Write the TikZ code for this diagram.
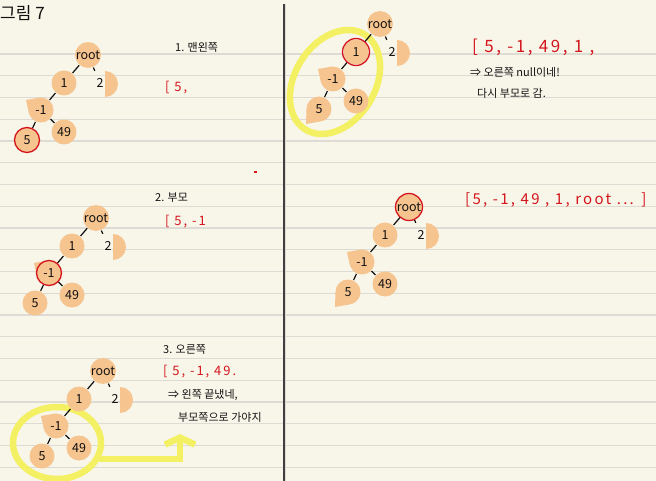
\documentclass[tikz,border=0pt]{standalone}
\usepackage{fontspec}
\setmainfont{Noto Sans CJK KR}
\newfontfamily\handred[LetterSpace=15]{Noto Sans CJK KR}
\usetikzlibrary{positioning,arrows.meta,calc,shapes.geometric}
\definecolor{paper}{HTML}{F8F5E9}
\definecolor{nrule}{HTML}{DDDBD3}
\definecolor{spine}{HTML}{3F3F3F}
\definecolor{pen}{HTML}{111111}
\definecolor{ored}{HTML}{D4151C}
\definecolor{oblob}{HTML}{F6C48E}
\definecolor{hyel}{HTML}{F4F064}
\tikzset{
  blob/.style   ={circle, fill=oblob, minimum size=25pt, inner sep=0pt,
                  font=\fontsize{12.5}{12.5}\selectfont, text=pen},
  bare/.style   ={blob, fill=none},
  link/.style   ={line width=1.2pt, draw=pen, shorten >=0.5pt, shorten <=0.5pt},
  ring/.style   ={draw=ored, line width=1.3pt},
  hilite/.style ={draw=hyel, line width=6.5pt, line cap=round},
  hlring/.style ={ellipse, hilite, inner sep=0pt},
  note/.style   ={font=\fontsize{11}{11}\selectfont, text=pen, inner sep=0pt, anchor=west},
  rlist/.style  ={note, font=\handred\fontsize{13}{13}\selectfont, text=ored},
  ruleline/.style={draw=nrule, line width=1.2pt},
  pics/numtree/.style={code={
    % half disc behind 2, corner of -1
    \fill[oblob] (17,-16) arc[start angle=90, end angle=-90, radius=13] -- cycle;
    \fill[oblob] (-62,-45) -- (-59,-58.4) -- (-48.3,-42.6) -- cycle;
    \node[blob] (-root) at (0,0)     {root};
    \node[blob] (-n1)   at (-24,-28) {1};
    \node[bare] (-n2)   at (12,-28)  {2};
    \node[blob] (-m)    at (-47,-55) {-1};
    \node[blob] (-five) at (-61,-85) {5};
    \node[blob] (-fn)   at (-24,-77) {49};
    \draw[link] (-root) -- (-n1);
    \draw[link] (-root) -- (-n2);
    \draw[link] (-n1) -- (-m);
    \draw[link] (-m) -- (-five);
    \draw[link] (-m) -- (-fn);
  }},
}
\begin{document}
\begin{tikzpicture}[x=1pt, y=1pt]
  \fill[paper] (0,0) rectangle (656,-481);
  \useasboundingbox (0,0) rectangle (656,-481);
  \foreach \k in {0,...,19}
    \draw[ruleline] (0,{-54-21.75*\k}) -- (656,{-54-21.75*\k});
  \draw[spine, line width=1.3pt] (284,-4) -- (284,-481);
  \draw[nrule, line width=0.8pt] (285.6,-4) -- (285.6,-481);

  % yellow marks
  \node[hlring, minimum width=88pt, minimum height=72pt] (hl3) at (57,-443) {};
  \coordinate (up3) at (180,-434);
  \draw[hilite, -{Straight Barb[length=7pt, width=30pt]}] (hl3.-20) -| (up3);
  \node[hlring, minimum width=112pt, minimum height=80pt, rotate=58] (hl4) at (335,-82) {};

  % trees
  \pic (t1) at (88,-55)  {numtree};
  \pic (t2) at (96,-218) {numtree};
  \pic (t3) at (103,-371) {numtree};
  \pic (t4) at (380,-24) {numtree};
  \pic (t5) at (409,-207) {numtree};
  \fill[oblob, shift={(t4-five.center)}] (-13,-15) -- (-12.5,0) -- (2,-12.3) -- cycle;
  \fill[oblob, shift={(t5-five.center)}] (-13,-15) -- (-12.5,0) -- (2,-12.3) -- cycle;

  % current node
  \draw[ring] (t1-five) circle[radius=12.5];
  \draw[ring] (t2-m) circle[radius=12.5];
  \draw[ring] (t4-n1) circle[radius=13.5];
  \draw[ring] (t5-root) circle[radius=13.5];

  % notes
  \node[note, font=\fontsize{17}{17}\selectfont] (title) at (0,-13) {그림 7};
  \node[note] (step1) at (175,-47) {1. 맨왼쪽};
  \node[rlist] (list1) at (165,-88) {[ 5,};
  \fill[ored] (254,-171) rectangle (257,-173);
  \node[note] (step2) at (155,-198) {2. 부모};
  \node[rlist] (list2) at (165,-222) {[ 5, -1};
  \node[note] (step3) at (163,-350) {3. 오른쪽};
  \node[rlist] (list3) at (163,-372) {[ 5, -1, 49.};
  \node[note] (note3a) at (168,-395) {⇒ 왼쪽 끝냈네,};
  \node[note] (note3b) at (178,-417) {부모쪽으로 가야지};
  \node[rlist, font=\handred\fontsize{17}{17}\selectfont] (list4) at (472,-47) {[ 5, -1, 49, 1 ,};
  \node[note] (note4a) at (470,-72) {⇒ 오른쪽 null이네!};
  \node[note] (note4b) at (477,-93) {다시 부모로 감.};
  \node[rlist, font=\handred\fontsize{15}{15}\selectfont] (list5) at (465,-200) {[5, -1, 49 , 1, root ... ]};
\end{tikzpicture}
\end{document}
